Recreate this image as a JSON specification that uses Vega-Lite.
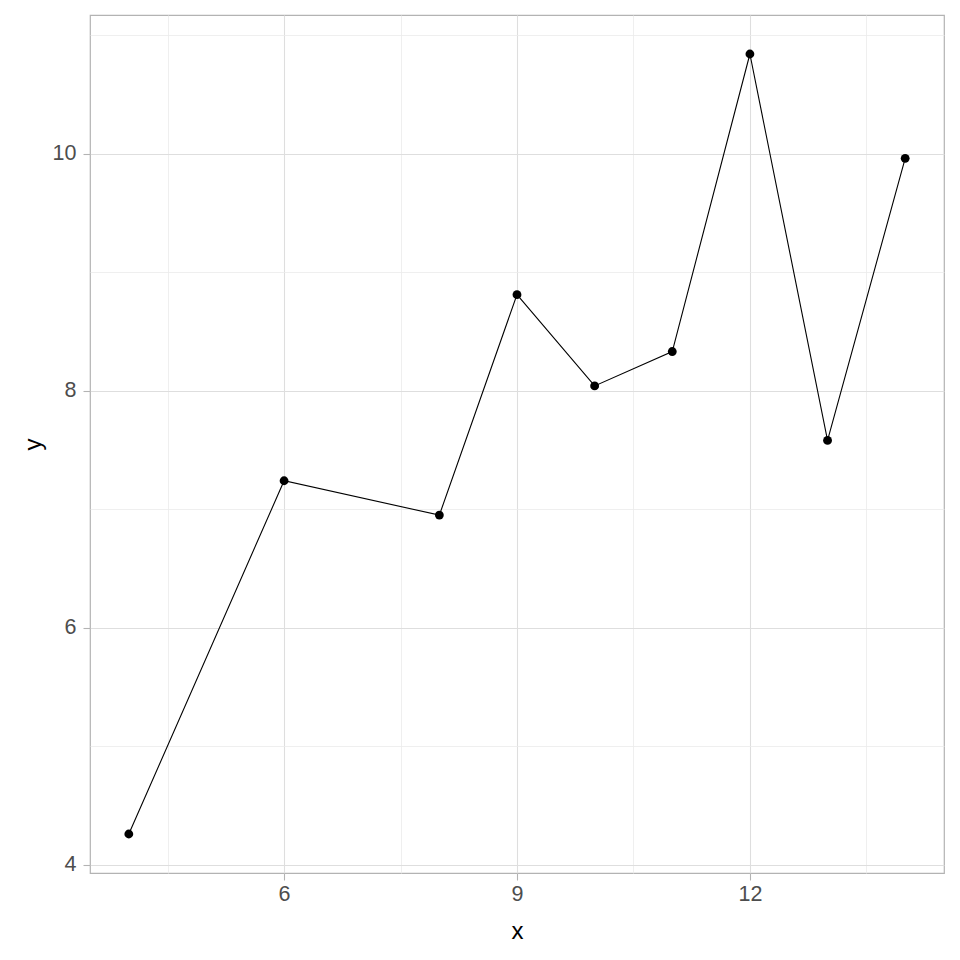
{
  "$schema": "https://vega.github.io/schema/vega-lite/v6.json",
  "autosize": "none",
  "width": 854,
  "height": 858,
  "padding": {"left": 90, "top": 15, "right": 16, "bottom": 87},
  "background": "white",
  "config": {
    "view": {"stroke": "#B3B3B3", "strokeWidth": 1.2},
    "axis": {"labelFont": "Liberation Sans", "titleFont": "Liberation Sans"}
  },
  "data": {"values": [
    {"x": 4, "y": 4.26},
    {"x": 6, "y": 7.24},
    {"x": 8, "y": 6.95},
    {"x": 9, "y": 8.81},
    {"x": 10, "y": 8.04},
    {"x": 11, "y": 8.33},
    {"x": 12, "y": 10.84},
    {"x": 13, "y": 7.58},
    {"x": 14, "y": 9.96}
  ]},
  "resolve": {"axis": {"x": "independent", "y": "independent"}},
  "layer": [
    {
      "mark": {"type": "line", "color": "black", "strokeWidth": 1.1},
      "encoding": {
        "x": {"field": "x", "type": "quantitative", "scale": {"domain": [3.5, 14.5], "nice": false, "zero": false},
          "axis": {"orient": "top", "values": [4.5, 7.5, 10.5, 13.5], "grid": true, "gridColor": "#EBEBEB", "gridWidth": 0.8, "labels": false, "ticks": false, "domain": false, "title": null}},
        "y": {"field": "y", "type": "quantitative", "scale": {"domain": [3.931, 11.169], "nice": false, "zero": false},
          "axis": {"orient": "right", "values": [5, 7, 9, 11], "grid": true, "gridColor": "#EBEBEB", "gridWidth": 0.8, "labels": false, "ticks": false, "domain": false, "title": null}}
      }
    },
    {
      "mark": {"type": "point", "filled": true, "color": "black", "opacity": 1, "size": 78},
      "encoding": {
        "x": {"field": "x", "type": "quantitative",
          "axis": {"orient": "bottom", "values": [6, 9, 12], "grid": true, "gridColor": "#DEDEDE", "gridWidth": 1.1, "domain": false, "tickColor": "#B3B3B3", "tickSize": 7, "tickWidth": 1.1, "labelColor": "#4D4D4D", "labelFontSize": 21.5, "labelPadding": 3, "title": "x", "titleFontSize": 24, "titleFontWeight": "normal", "titleColor": "black", "titlePadding": 15}},
        "y": {"field": "y", "type": "quantitative",
          "axis": {"orient": "left", "values": [4, 6, 8, 10], "grid": true, "gridColor": "#DEDEDE", "gridWidth": 1.1, "domain": false, "tickColor": "#B3B3B3", "tickSize": 7, "tickWidth": 1.1, "labelColor": "#4D4D4D", "labelFontSize": 21.5, "labelPadding": 7, "title": "y", "titleFontSize": 24, "titleFontWeight": "normal", "titleColor": "black", "titlePadding": 7}}
      }
    }
  ]
}
